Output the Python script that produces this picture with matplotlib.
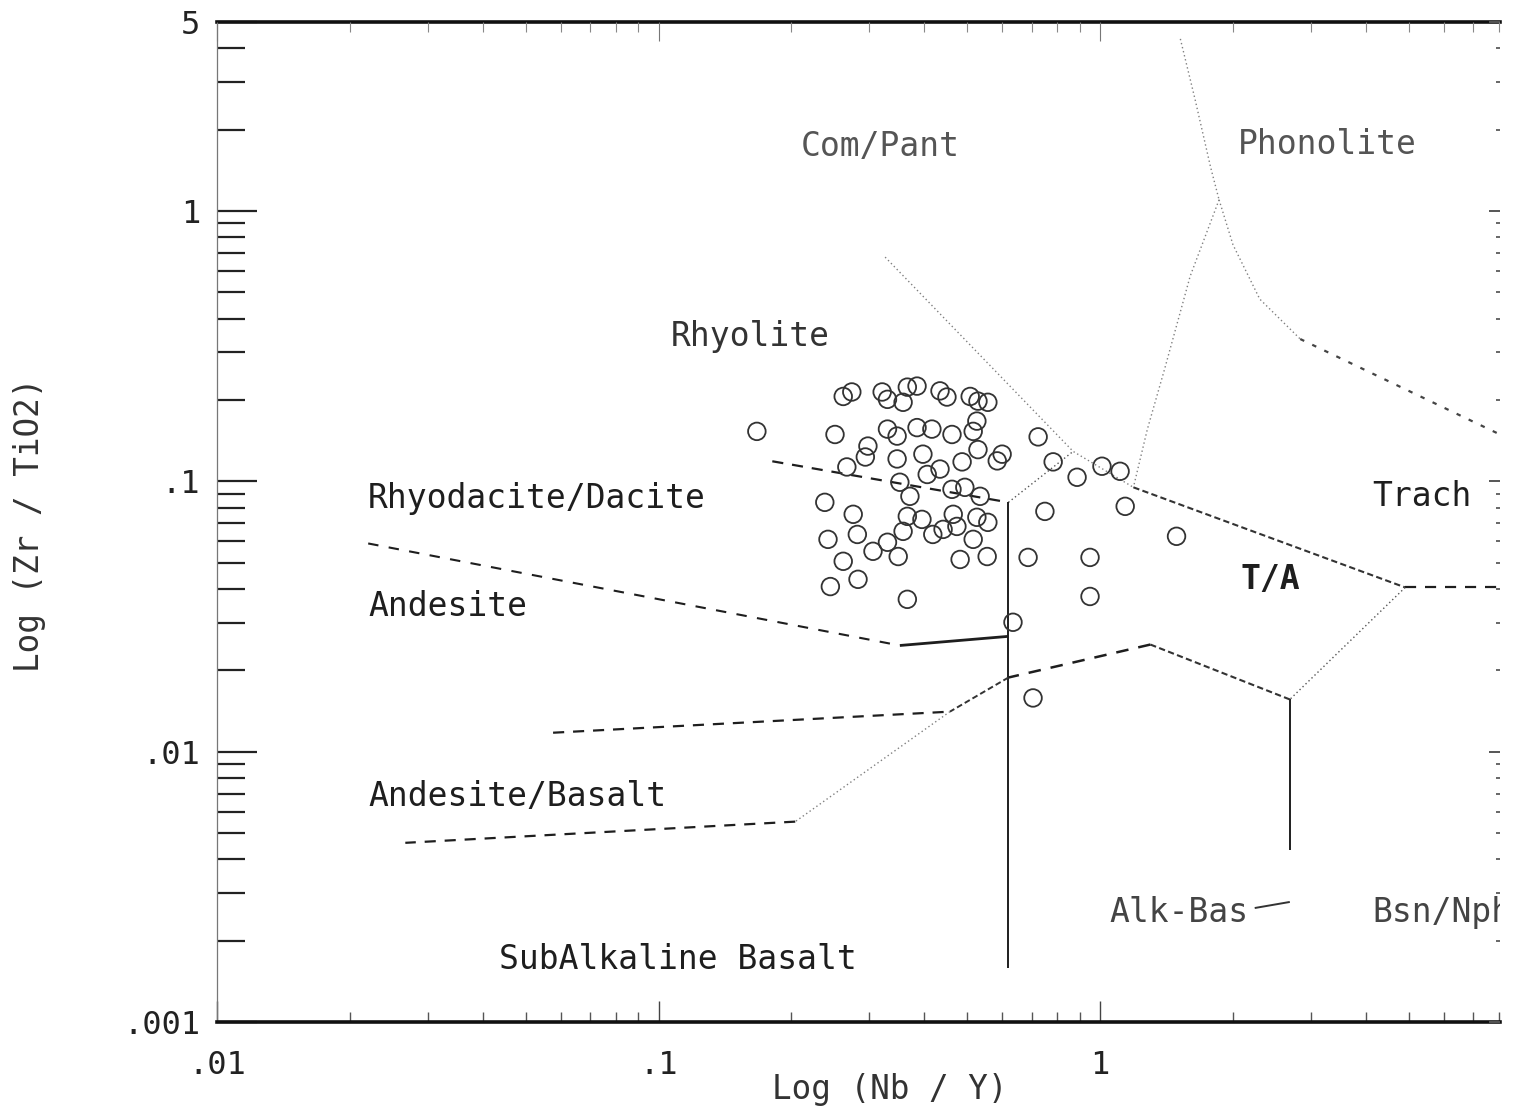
import matplotlib
matplotlib.use("Agg")
import matplotlib.pyplot as plt
from matplotlib.ticker import FixedLocator, NullFormatter, LogLocator

plt.rcParams['font.family'] = ['DejaVu Sans Mono', 'DejaVu Sans']

# ---------------- data ----------------
# sample points: Nb/Y, Zr/TiO2
nb_y = [0.167, 0.251, 0.262, 0.274, 0.267, 0.298, 0.321, 0.330, 0.358, 0.366,
        0.385, 0.434, 0.450, 0.508, 0.529, 0.557, 0.526, 0.330, 0.347, 0.385,
        0.416, 0.462, 0.529, 0.600, 0.347, 0.397, 0.434, 0.487, 0.352, 0.371,
        0.406, 0.462, 0.494, 0.535, 0.238, 0.276, 0.366, 0.395, 0.465, 0.526,
        0.557, 0.242, 0.282, 0.330, 0.358, 0.418, 0.441, 0.474, 0.516, 0.306,
        0.349, 0.262, 0.482, 0.555, 0.283, 0.245, 0.366, 1.49, 0.724, 0.783,
        0.887, 1.01, 1.11, 1.14, 0.750, 0.687, 0.949, 0.949, 0.635, 0.705,
        0.516, 0.294, 0.585]
zr_tio2 = [0.153, 0.149, 0.206, 0.214, 0.113, 0.135, 0.214, 0.201, 0.196, 0.223,
           0.225, 0.216, 0.205, 0.206, 0.198, 0.196, 0.167, 0.156, 0.147, 0.158,
           0.156, 0.149, 0.131, 0.126, 0.121, 0.126, 0.111, 0.118, 0.0992, 0.0880,
           0.106, 0.0934, 0.0950, 0.0880, 0.0836, 0.0755, 0.0742, 0.0723, 0.0755, 0.0736,
           0.0705, 0.0610, 0.0636, 0.0595, 0.0653, 0.0636, 0.0664, 0.0681, 0.0610, 0.0551,
           0.0527, 0.0506, 0.0514, 0.0527, 0.0434, 0.0408, 0.0366, 0.0626, 0.146, 0.118,
           0.1035, 0.1137, 0.1089, 0.0808, 0.0774, 0.0523, 0.0523, 0.0375, 0.0301, 0.0158,
           0.153, 0.123, 0.119]

# field boundaries (Nb/Y, Zr/TiO2)
compant_phon_x = [1.52, 1.64, 1.78, 1.86]
compant_phon_y = [4.33, 2.60, 1.45, 1.10]
compant_trach_x = [1.86, 1.60, 1.40, 1.28, 1.19]
compant_trach_y = [1.10, 0.574, 0.260, 0.156, 0.095]
phon_trach_x = [1.86, 2.00, 2.30, 2.84]
phon_trach_y = [1.10, 0.75, 0.472, 0.336]
phon_trach2_x = [2.84, 8.05]
phon_trach2_y = [0.336, 0.149]
compant_rhy_x = [0.326, 0.869, 1.19]
compant_rhy_y = [0.675, 0.129, 0.095]
rhy_ta_x = [0.620, 0.869]
rhy_ta_y = [0.0836, 0.129]
trach_ta_x = [1.19, 4.91]
trach_ta_y = [0.095, 0.0405]
trach_bsn_x = [4.91, 8.05]
trach_bsn_y = [0.0405, 0.0405]
ta_bsn_x = [4.91, 2.69]
ta_bsn_y = [0.0405, 0.0156]
alk_bsn_x = [2.69, 2.69]
alk_bsn_y = [0.0156, 0.00434]
ta_alk_x = [2.69, 1.30]
ta_alk_y = [0.0156, 0.0249]
ta_alk2_x = [1.30, 0.620]
ta_alk2_y = [0.0249, 0.0188]
sub_alk_x = [0.620, 0.620]
sub_alk_y = [0.0836, 0.00158]
rhyd_rhy_x = [0.181, 0.620]
rhyd_rhy_y = [0.1186, 0.0836]
and_rhyd_x = [0.0220, 0.352]
and_rhyd_y = [0.0589, 0.0247]
and_rhyd2_x = [0.352, 0.620]
and_rhyd2_y = [0.0247, 0.0267]
andbas_a_x = [0.620, 0.457]
andbas_a_y = [0.0188, 0.01406]
andbas_b_x = [0.457, 0.204]
andbas_b_y = [0.01406, 0.00551]
andbas_sub_x = [0.204, 0.0267]
andbas_sub_y = [0.00551, 0.0046]
and_andbas_x = [0.0577, 0.457]
and_andbas_y = [0.01175, 0.01406]
alk_mark_x = [2.24, 2.69]
alk_mark_y = [0.00264, 0.00278]

ytick_vals = [0.001, 0.01, 0.1, 1, 5]
ytick_labels = ['.001', '.01', '.1', '1', '5']
xtick_vals = [0.01, 0.1, 1]
xtick_labels = ['.01', '.1', '1']

XMIN, XMAX = 0.01, 8.05
YMIN, YMAX = 0.001, 5

# ---------------- figure ----------------
fig = plt.figure(figsize=(15.2, 11.12), dpi=100)
L, R, T, B = 217, 1500, 22, 1022
ax = fig.add_axes([L / 1520, 1 - B / 1112, (R - L) / 1520, (B - T) / 1112])
ax.set_xscale('log')
ax.set_yscale('log')
ax.set_xlim(XMIN, XMAX)
ax.set_ylim(YMIN, YMAX)

dark = '#1e1e1e'
gray = '#808080'
dash = (0, (5, 4))
fine = (0, (3, 1.6))
dot = (0, (1, 2))

def seg(x, y, ls, color, lw):
    ax.plot(x, y, linestyle=ls, color=color, lw=lw, solid_capstyle='butt')

seg(compant_phon_x, compant_phon_y, dot, gray, 1.0)
seg(compant_trach_x, compant_trach_y, dot, gray, 1.0)
seg(phon_trach_x, phon_trach_y, dot, gray, 1.0)
seg(phon_trach2_x, phon_trach2_y, (0, (2, 4)), '#444444', 1.6)
seg(compant_rhy_x, compant_rhy_y, dot, gray, 1.0)
seg(rhy_ta_x, rhy_ta_y, dot, '#555555', 1.0)
seg(trach_ta_x, trach_ta_y, fine, '#333333', 1.5)
seg(trach_bsn_x, trach_bsn_y, dash, dark, 1.6)
seg(ta_bsn_x, ta_bsn_y, dot, '#555555', 1.0)
seg(alk_bsn_x, alk_bsn_y, '-', dark, 1.4)
seg(ta_alk_x, ta_alk_y, fine, '#333333', 1.5)
seg(ta_alk2_x, ta_alk2_y, dash, dark, 1.8)
seg(sub_alk_x, sub_alk_y, '-', dark, 1.4)
seg(rhyd_rhy_x, rhyd_rhy_y, dash, dark, 1.6)
seg(and_rhyd_x, and_rhyd_y, (0, (5, 5)), dark, 1.5)
seg(and_rhyd2_x, and_rhyd2_y, '-', dark, 2.0)
seg(andbas_a_x, andbas_a_y, fine, '#333333', 1.4)
seg(andbas_b_x, andbas_b_y, dot, gray, 1.0)
seg(andbas_sub_x, andbas_sub_y, dash, dark, 1.6)
seg(and_andbas_x, and_andbas_y, dash, dark, 1.6)
seg(alk_mark_x, alk_mark_y, '-', '#333333', 1.4)

ax.scatter(nb_y, zr_tio2, s=160, facecolors='none', edgecolors='#333333',
           linewidths=1.3, zorder=3)

# ---------------- field labels ----------------
fs = 23.8
ax.text(0.318, 1.73, 'Com/Pant', ha='center', va='center', fontsize=fs, color='#555555')
ax.text(3.27, 1.76, 'Phonolite', ha='center', va='center', fontsize=fs, color='#555555')
ax.text(0.161, 0.344, 'Rhyolite', ha='center', va='center', fontsize=fs, color='#333333')
ax.text(0.0220, 0.0865, 'Rhyodacite/Dacite', ha='left', va='center', fontsize=fs, color=dark)
ax.text(0.0220, 0.0344, 'Andesite', ha='left', va='center', fontsize=fs, color=dark)
ax.text(0.0220, 0.00681, 'Andesite/Basalt', ha='left', va='center', fontsize=fs, color=dark)
ax.text(0.0435, 0.00170, 'SubAlkaline Basalt', ha='left', va='center', fontsize=fs, color=dark)
ax.text(4.13, 0.0880, 'Trach', ha='left', va='center', fontsize=fs, color=dark)
ax.text(2.43, 0.0434, 'T/A', ha='center', va='center', fontsize=fs, color=dark, fontweight='bold')
ax.text(1.05, 0.00255, 'Alk-Bas', ha='left', va='center', fontsize=fs, color='#444444')
ax.text(4.13, 0.00255, 'Bsn/Nph', ha='left', va='center', fontsize=fs, color='#444444',
        clip_on=True)

# ---------------- axes styling ----------------
for s in ['top', 'bottom']:
    ax.spines[s].set_linewidth(2.6)
    ax.spines[s].set_color('#111111')
ax.spines['left'].set_linewidth(0.9)
ax.spines['left'].set_color('#777777')
ax.spines['left'].set_linestyle((0, (1, 1)))
ax.spines['right'].set_visible(False)

ax.yaxis.set_major_locator(FixedLocator(ytick_vals))
ax.set_yticklabels(ytick_labels)
ax.yaxis.set_minor_locator(LogLocator(base=10, subs=[2, 3, 4, 5, 6, 7, 8, 9]))
ax.yaxis.set_minor_formatter(NullFormatter())
ax.xaxis.set_major_locator(FixedLocator(xtick_vals))
ax.set_xticklabels(xtick_labels)
ax.xaxis.set_minor_locator(LogLocator(base=10, subs=[2, 3, 4, 5, 6, 7, 8, 9]))
ax.xaxis.set_minor_formatter(NullFormatter())

ax.tick_params(axis='y', which='major', direction='in', length=29, width=1.6,
               color='#222222', labelsize=23, pad=12, left=True, right=False,
               labelcolor='#222222')
ax.tick_params(axis='y', which='minor', direction='in', length=20, width=1.6,
               color='#222222', left=True, right=False)
ax.tick_params(axis='x', which='major', direction='in', length=15, width=1.0,
               color='#444444', labelsize=23, pad=20, top=False, labelcolor='#222222')
ax.tick_params(axis='x', which='minor', direction='in', length=7, width=1.0,
               color='#555555', top=False)

# right-hand ticks
axr = ax.twinx()
axr.set_yscale('log')
axr.set_ylim(YMIN, YMAX)
axr.yaxis.set_major_locator(FixedLocator(ytick_vals))
axr.yaxis.set_minor_locator(LogLocator(base=10, subs=[2, 3, 4, 5, 6, 7, 8, 9]))
axr.yaxis.set_major_formatter(NullFormatter())
axr.yaxis.set_minor_formatter(NullFormatter())
axr.tick_params(axis='y', which='major', direction='in', length=8, width=1.4,
                color='#555555', labelright=False)
axr.tick_params(axis='y', which='minor', direction='in', length=3, width=1.4,
                color='#666666')
for s in axr.spines.values():
    s.set_visible(False)

# top ticks
axt = ax.twiny()
axt.set_xscale('log')
axt.set_xlim(XMIN, XMAX)
axt.xaxis.set_major_locator(FixedLocator(xtick_vals))
axt.xaxis.set_minor_locator(LogLocator(base=10, subs=[2, 3, 4, 5, 6, 7, 8, 9]))
axt.xaxis.set_major_formatter(NullFormatter())
axt.xaxis.set_minor_formatter(NullFormatter())
axt.tick_params(axis='x', which='major', direction='in', length=14, width=0.8,
                color='#777777', labeltop=False)
axt.tick_params(axis='x', which='minor', direction='in', length=7, width=0.8,
                color='#888888')
for s in axt.spines.values():
    s.set_visible(False)

fig.text(890 / 1520, 1 - 1090 / 1112, 'Log (Nb / Y)', ha='center', va='center',
         fontsize=23.5, color='#333333')
fig.text(30 / 1520, 1 - 525 / 1112, 'Log (Zr / TiO2)', ha='center', va='center',
         fontsize=23.5, color='#333333', rotation=90)

fig.savefig('out.png', dpi=100, facecolor='white')
